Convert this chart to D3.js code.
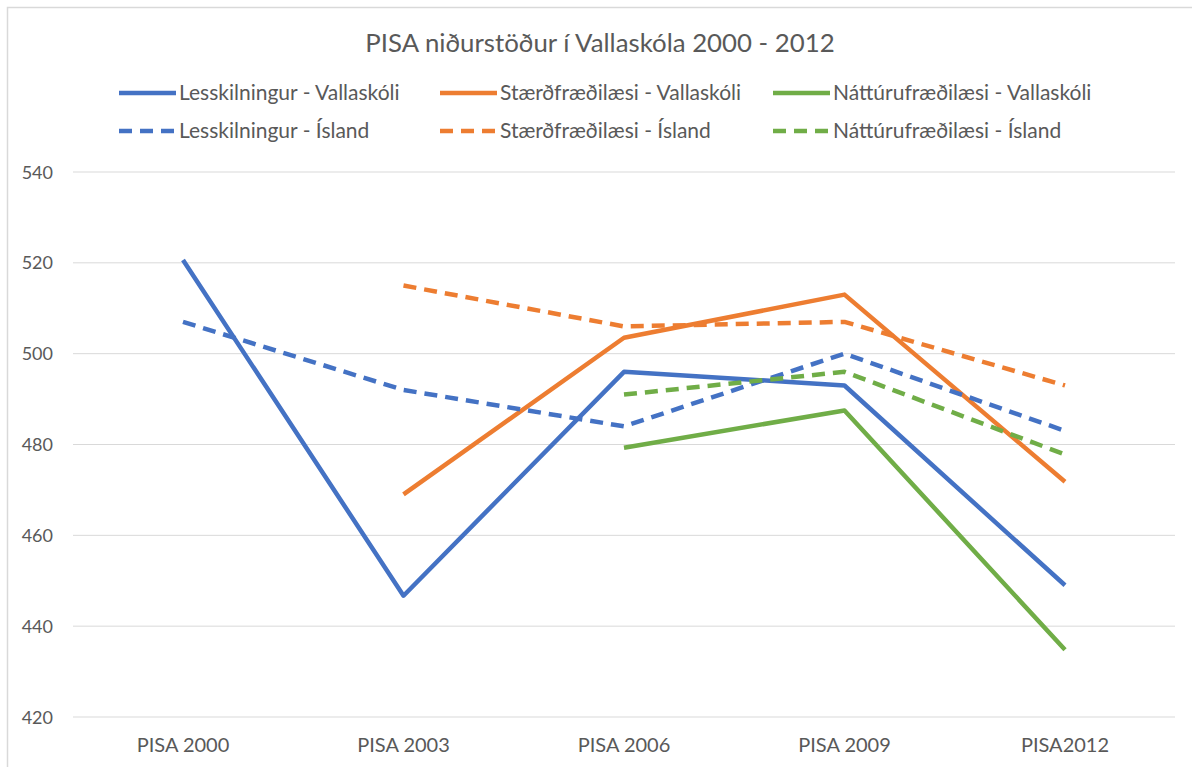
<!DOCTYPE html>
<html>
<head>
<meta charset="utf-8">
<script src="https://cdn.jsdelivr.net/npm/d3@7"></script>
<style>
  body { margin: 0; background: #fff; }
  text { font-family: Lato, "Open Sans", sans-serif; fill: #595959; }
</style>
</head>
<body>
<div id="chart"></div>
<script>
const width = 1192;
const height = 767;

const categories = ['PISA 2000', 'PISA 2003', 'PISA 2006', 'PISA 2009', 'PISA2012'];
const yTicks = [420, 440, 460, 480, 500, 520, 540];

// null = engin gögn
const lesVallaskoli = [520.6, 446.7, 496, 493, 449];
const staerdVallaskoli = [null, 469, 503.5, 513, 471.8];
const natturVallaskoli = [null, null, 479.3, 487.5, 434.8];
const lesIsland = [507, 492, 484, 500, 483];
const staerdIsland = [null, 515, 506, 507, 493];
const natturIsland = [null, null, 491, 496, 477.8];

const seriesNames = [
  'Lesskilningur - Vallaskóli', 'Stærðfræðilæsi - Vallaskóli', 'Náttúrufræðilæsi - Vallaskóli',
  'Lesskilningur - Ísland', 'Stærðfræðilæsi - Ísland', 'Náttúrufræðilæsi - Ísland'
];
const seriesValues = [lesVallaskoli, staerdVallaskoli, natturVallaskoli, lesIsland, staerdIsland, natturIsland];
const colors = ['#4472C4', '#ED7D31', '#70AD47'];

const svg = d3.select('#chart').append('svg')
  .attr('width', width)
  .attr('height', height);

// rammi
svg.append('rect')
  .attr('x', 7.5).attr('y', 7.5)
  .attr('width', width + 10).attr('height', height + 10)
  .attr('fill', 'none')
  .attr('stroke', '#d9d9d9')
  .attr('stroke-width', 1.5);

svg.append('text')
  .attr('x', 600)
  .attr('y', 52)
  .attr('text-anchor', 'middle')
  .style('font-size', '25.8px')
  .text('PISA niðurstöður í Vallaskóla 2000 - 2012');

const x = d3.scalePoint().domain(categories).range([183, 1065]);
const y = d3.scaleLinear().domain([420, 540]).range([717, 172]);

// grid
svg.append('g')
  .selectAll('line')
  .data(yTicks)
  .enter().append('line')
  .attr('x1', 73).attr('x2', 1175)
  .attr('y1', d => y(d)).attr('y2', d => y(d))
  .attr('stroke', '#d9d9d9')
  .attr('stroke-width', 1);

svg.append('g')
  .selectAll('text')
  .data(yTicks)
  .enter().append('text')
  .attr('x', 53)
  .attr('y', d => y(d) + 6.5)
  .attr('text-anchor', 'end')
  .style('font-size', '18px')
  .text(d => d);

svg.append('g')
  .selectAll('text')
  .data(categories)
  .enter().append('text')
  .attr('x', d => x(d))
  .attr('y', 752)
  .attr('text-anchor', 'middle')
  .style('font-size', '20px')
  .text(d => d);

const line = d3.line()
  .defined(d => d != null)
  .x((d, i) => x(categories[i]))
  .y(d => y(d));

seriesValues.forEach((vals, i) => {
  svg.append('path').datum(vals)
    .attr('fill', 'none')
    .attr('stroke', colors[i % 3])
    .attr('stroke-width', 4.5)
    .attr('stroke-linejoin', 'round')
    .attr('stroke-dasharray', i < 3 ? null : '13,8')
    .attr('d', line);
});

// legend
const legendX = [119, 440, 773];
const legendY = [93, 131];
seriesNames.forEach((name, i) => {
  const col = i % 3;
  const row = Math.floor(i / 3);
  const g = svg.append('g')
    .attr('transform', 'translate(' + legendX[col] + ',' + legendY[row] + ')');
  g.append('line')
    .attr('x1', 0).attr('x2', 57)
    .attr('y1', 0).attr('y2', 0)
    .attr('stroke', colors[col])
    .attr('stroke-width', 4.5)
    .attr('stroke-dasharray', row === 0 ? null : '13,8');
  g.append('text')
    .attr('x', 60)
    .attr('y', 7)
    .style('font-size', '21px')
    .text(name);
});
</script>
</body>
</html>
